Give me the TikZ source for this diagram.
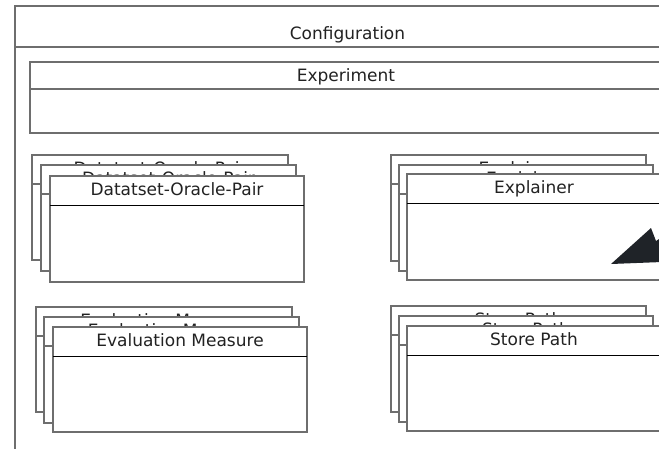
\documentclass[tikz,border=0pt]{standalone}
\usepackage{fontspec}
\setmainfont{DejaVu Sans}
\definecolor{boxline}{HTML}{6E6E6E}
\definecolor{txt}{HTML}{222222}
\definecolor{tri}{HTML}{1F2328}
\tikzset{
  frame/.style={draw=boxline, line width=1.5pt, fill=white, inner sep=0pt, outer sep=0pt, anchor=north west},
  hdr/.style={draw=black, line width=1pt},
  stub/.style={draw=boxline, line width=1.5pt},
  title/.style={anchor=base, inner sep=0pt, text=txt, font=\fontsize{17}{20}\selectfont},
}
% #1 name, #2 x, #3 y, #4 w, #5 h, #6 header offset, #7 baseline offset, #8 title, #9 header style
\newcommand\umlbox[9]{%
  \node[frame, minimum width=#4pt, minimum height=#5pt] (#1) at (#2,#3) {};
  \draw[#9] ([yshift=-#6pt]#1.north west) -- ([yshift=-#6pt]#1.north east);
  \node[title] (#1-t) at ([yshift=-#7pt]#1.north) {#8};
}
\begin{document}
\begin{tikzpicture}[x=1pt,y=-1pt]
\useasboundingbox (0,0) rectangle (659,448);
\clip (0,0) rectangle (659,448);
\fill[white] (0,0) rectangle (659,448);

\umlbox{conf}{15}{6}{665}{460}{41}{33.5}{Configuration}{stub}
\umlbox{exp}{30}{62}{632}{71}{27}{19.5}{Experiment}{stub}

% Datatset-Oracle-Pair stack
\umlbox{dop3}{32}{155}{256}{105}{29}{19}{Datatset-Oracle-Pair}{stub}
\umlbox{dop2}{41}{165}{255}{106}{29}{19}{Datatset-Oracle-Pair}{stub}
\umlbox{dop1}{50}{176}{254}{106}{29}{19}{Datatset-Oracle-Pair}{hdr}

% Explainer stack
\umlbox{ex3}{391}{155}{255}{106}{29}{19}{Explainer}{stub}
\umlbox{ex2}{399}{165}{254}{106}{29}{19}{Explainer}{stub}
\umlbox{ex1}{407}{174}{254}{106}{29}{19}{Explainer}{hdr}
\fill[tri] (611,264) -- (651,228) -- (656,241) -- (662,237) -- (662,262) -- cycle;

% Evaluation Measure stack
\umlbox{ev3}{36}{307}{256}{105}{29}{19}{Evaluation Measure}{stub}
\umlbox{ev2}{44}{317}{255}{106}{29}{19}{Evaluation Measure}{stub}
\umlbox{ev1}{53}{327}{254}{105}{29}{19}{Evaluation Measure}{hdr}

% Store Path stack
\umlbox{sp3}{391}{306}{255}{106}{29}{19}{Store Path}{stub}
\umlbox{sp2}{399}{316}{254}{106}{29}{19}{Store Path}{stub}
\umlbox{sp1}{407}{326}{254}{105}{29}{19}{Store Path}{hdr}
\end{tikzpicture}
\end{document}
